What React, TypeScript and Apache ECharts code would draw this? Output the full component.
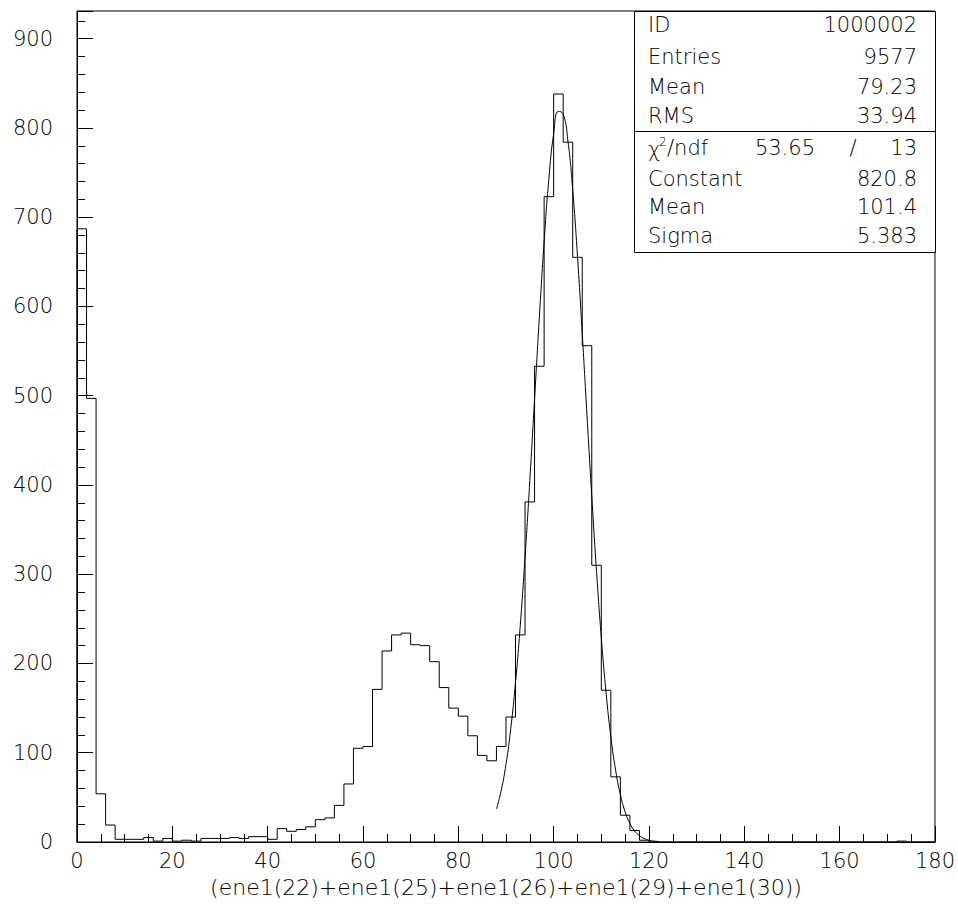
import React, { useEffect, useRef } from "react";
import * as echarts from "echarts";

// ---- data ----
const BIN_WIDTH = 2;
const X_MIN = 0;
const X_MAX = 180;
const Y_MAX = 931;

// counts per 2-unit bin, starting at x = 0
const counts = [
  687, 497, 54, 19, 3, 3, 3, 5, 1, 4, // 0-18
  1, 2, 1, 4, 4, 4, 5, 4, 6, 6, // 20-38
  3, 15, 12, 14, 17, 25, 27, 41, 65, 105, // 40-58
  107, 171, 214, 232, 234, 221, 220, 202, 173, 150, // 60-78
  141, 119, 97, 91, 107, 140, 232, 381, 533, 723, // 80-98
  838, 784, 655, 556, 310, 170, 73, 30, 13, 2, // 100-118
  0, 0, 0, 0, 0, 0, 0, 0, 0, 0, // 120-138
  0, 0, 0, 0, 0, 0, 0, 0, 0, 0, // 140-158
  0, 0, 0, 0, 0, 0, 1, 0, 0, 0, // 160-178
];

// gaussian fit curve as drawn (x, y)
const fitX = [
  88, 89, 90, 91, 92, 93, 94, 95, 96, 97, 98, 99, 100, 101, 102, 103, 104, 105,
  106, 107, 108, 109, 110, 111, 112, 113, 114, 115, 116, 117, 118, 119, 120, 121, 122,
];
const fitY = [
  37.0, 57.8, 87.1, 127.0, 178.7, 242.9, 319.1, 404.8, 496.2, 587.7, 672.4, 743.1,
  793.5, 818.5, 815.7, 785.3, 730.4, 656.3, 569.7, 477.8, 387.1, 303.0, 229.1,
  167.3, 118.1, 80.5, 53.0, 33.7, 20.7, 12.3, 7.1, 3.9, 2.1, 1.1, 0.5,
];

const xTickLabels = ["0", "20", "40", "60", "80", "100", "120", "140", "160", "180"];
const yTickLabels = ["0", "100", "200", "300", "400", "500", "600", "700", "800", "900"];

const xTitle = "(ene1(22)+ene1(25)+ene1(26)+ene1(29)+ene1(30))";

const statsTop = [
  ["ID", "1000002"],
  ["Entries", "9577"],
  ["Mean", "79.23"],
  ["RMS", "33.94"],
];
const chiValue = "53.65";
const ndfValue = "13";
const statsFit = [
  ["Constant", "820.8"],
  ["Mean", "101.4"],
  ["Sigma", "5.383"],
];

const FONT = "DejaVu Sans";
const WEIGHT = 200;

export default function App() {
  const ref = useRef<HTMLDivElement>(null);

  useEffect(() => {
    if (!ref.current) return;
    const chart = echarts.init(ref.current, null, { renderer: "svg" });

    const histData: number[][] = [[X_MIN, 0]];
    counts.forEach((c, i) => histData.push([X_MIN + i * BIN_WIDTH, c]));
    histData.push([X_MAX, 0]);

    const fitData = fitX.map((x, i) => [x, fitY[i]]);

    const boxL = 634;
    const boxR = 935;
    const boxT = 11;
    const boxMid = 131;
    const boxB = 252;
    const textL = 648;
    const textR = 917;
    const rowTop = [25, 57, 87, 116];
    const rowFit = [179, 207, 236];
    const chiY = 148;

    const txt = (x: number, y: number, s: string, align: string, size = 21) => ({
      type: "text",
      x,
      y,
      z: 101,
      style: {
        text: s,
        fill: "#000",
        font: `${WEIGHT} ${size}px "${FONT}"`,
        textAlign: align,
        textVerticalAlign: "middle",
      },
    });

    const graphics: any[] = [
      {
        type: "rect",
        z: 100,
        shape: { x: boxL + 0.5, y: boxT + 0.5, width: boxR - boxL, height: boxB - boxT },
        style: { fill: "#fff", stroke: "#000", lineWidth: 1 },
      },
      {
        type: "line",
        z: 101,
        shape: { x1: boxL, y1: boxMid + 0.5, x2: boxR, y2: boxMid + 0.5 },
        style: { stroke: "#000", lineWidth: 1 },
      },
    ];
    statsTop.forEach(([k, v], i) => {
      graphics.push(txt(textL, rowTop[i], k, "left"));
      graphics.push(txt(textR, rowTop[i], v, "right"));
    });
    graphics.push(txt(textL, chiY + 2, "χ", "left"));
    graphics.push(txt(textL + 11, chiY - 6, "2", "left", 12));
    graphics.push(txt(textL + 19, chiY, "/ndf", "left"));
    graphics.push(txt(815, chiY, chiValue, "right"));
    graphics.push(txt(853, chiY, "/", "center"));
    graphics.push(txt(textR, chiY, ndfValue, "right"));
    statsFit.forEach(([k, v], i) => {
      graphics.push(txt(textL, rowFit[i], k, "left"));
      graphics.push(txt(textR, rowFit[i], v, "right"));
    });

    const axisFont = { fontFamily: FONT, fontWeight: WEIGHT, fontSize: 21, color: "#000" };

    chart.setOption({
      animation: false,
      backgroundColor: "#fff",
      grid: {
        left: 77,
        right: 23,
        top: 11,
        bottom: 65,
        show: true,
        borderColor: "#000",
        borderWidth: 1,
        backgroundColor: "transparent",
      },
      xAxis: {
        type: "value",
        min: X_MIN,
        max: X_MAX,
        interval: 20,
        name: xTitle,
        nameLocation: "middle",
        nameGap: 34,
        nameTextStyle: { fontFamily: FONT, fontWeight: WEIGHT, fontSize: 22, color: "#000" },
        axisLine: { show: true, lineStyle: { color: "#000", width: 1 } },
        axisTick: { show: true, inside: true, length: 16, lineStyle: { color: "#000" } },
        minorTick: { show: true, splitNumber: 4, length: 8, lineStyle: { color: "#000" } },
        splitLine: { show: false },
        minorSplitLine: { show: false },
        axisLabel: {
          ...axisFont,
          margin: 8,
          formatter: (v: number) => {
            const s = String(Math.round(v));
            return xTickLabels.includes(s) ? s : "";
          },
        },
      },
      yAxis: [
        {
          type: "value",
          min: 0,
          max: Y_MAX,
          interval: 100,
          axisLine: { show: true, lineStyle: { color: "#000", width: 1 } },
          axisTick: { show: true, inside: true, length: 16, lineStyle: { color: "#000" } },
          splitLine: { show: false },
          axisLabel: {
            ...axisFont,
            margin: 24,
            formatter: (v: number) => {
              const s = String(Math.round(v));
              return yTickLabels.includes(s) && v % 100 === 0 ? s : "";
            },
          },
        },
        {
          type: "value",
          position: "left",
          min: 0,
          max: Y_MAX,
          interval: 20,
          axisLine: { show: false },
          axisTick: { show: true, inside: true, length: 8, lineStyle: { color: "#000" } },
          splitLine: { show: false },
          axisLabel: { show: false },
        },
      ],
      series: [
        {
          type: "line",
          name: "hist",
          step: "end",
          data: histData,
          showSymbol: false,
          symbol: "none",
          lineStyle: { color: "#000", width: 1 },
          yAxisIndex: 0,
          z: 5,
        },
        {
          type: "line",
          name: "fit",
          smooth: true,
          data: fitData,
          showSymbol: false,
          symbol: "none",
          lineStyle: { color: "#000", width: 1 },
          yAxisIndex: 0,
          z: 6,
        },
      ],
      graphic: graphics,
    });

    return () => chart.dispose();
  }, []);

  return (
    <div
      ref={ref}
      style={{ position: "fixed", left: 0, top: 0, width: 958, height: 907, background: "#fff" }}
    />
  );
}
